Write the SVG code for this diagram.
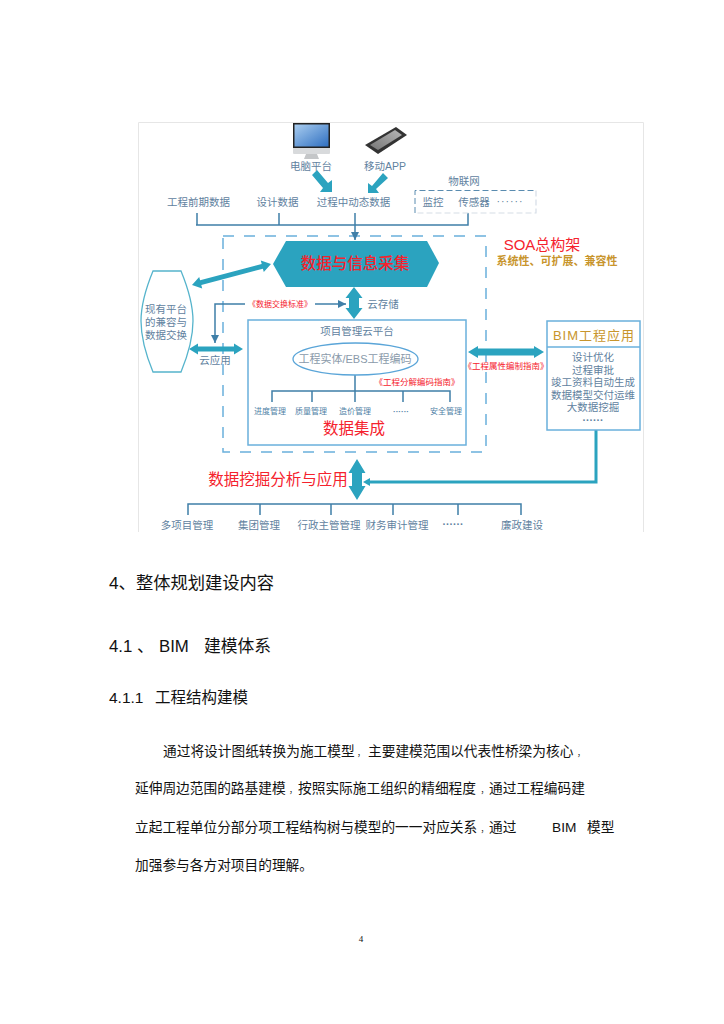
<svg xmlns="http://www.w3.org/2000/svg" width="724" height="1024" viewBox="0 0 724 1024">
<defs>
<style>
text{font-family:"Liberation Sans","Noto Sans CJK SC",sans-serif}
.t{fill:#5f82a0;text-anchor:middle;font-size:10.5px}
.s{fill:#4f7fa6;text-anchor:middle;font-size:8px}
.r{fill:#f5222d;text-anchor:middle}
.g{fill:#c8952c;text-anchor:middle}
.l{fill:none;stroke:#3f7fa8;stroke-width:1.5}
.dash{fill:none;stroke:#6ab0dc;stroke-width:1.5;stroke-dasharray:11 10}
.box{fill:#fff;stroke:#6ab0dc;stroke-width:1.5}
.teal{fill:#2ba3bf}
.ts{stroke:#2ba3bf;fill:none}
.b{fill:#111;font-size:13.7px}
.c{font-size:8px}
.h{fill:#111}
</style>
<marker id="thin" markerWidth="8" markerHeight="8" refX="6" refY="3" orient="auto" markerUnits="userSpaceOnUse" viewBox="0 0 6 6"><path d="M0 0L6 3L0 6Z" fill="#3f7fa8"/></marker>
<linearGradient id="scr" x1="0" y1="0" x2="1" y2="1"><stop offset="0" stop-color="#a9cdf0"/><stop offset="1" stop-color="#2f6fc0"/></linearGradient>
<linearGradient id="ph" x1="0" y1="1" x2="1" y2="0"><stop offset="0" stop-color="#777"/><stop offset="1" stop-color="#b5b5b5"/></linearGradient>
</defs>
<rect width="724" height="1024" fill="#fff"/>
<path d="M138.500 532V122.500H643.500V532" fill="none" stroke="#e6e6e6"/>

<g id="frame-soa">
<rect class="dash" x="223" y="236" width="263" height="216"/>
<text class="r" x="542" y="250" font-size="15">SOA总构架</text>
<text class="g" x="557" y="265" font-size="11" font-weight="700">系统性、可扩展、兼容性</text>
</g>

<g id="connectors">
<path class="l" d="M197 213V225M279 213V225M196 225H468V213"/>
<path class="l" d="M355 213V240" marker-end="url(#thin)"/>
<path class="l" stroke-width="1" d="M245 304H215V343" marker-end="url(#thin)"/>
<path class="l" d="M315 304H346" marker-end="url(#thin)"/>
<path class="l" d="M355 375V391M272 402V391H450V402M312 391V402M355 391V402M403 391V402"/>
<path class="l" d="M188 515V504H521V515M260 504V515M331 504V515M393 504V515M458 504V515"/>
<polygon class="teal" points="312,175 317,170 328,183 332,180 332,192 320,192 323,188"/>
<polygon class="teal" points="388,178 383,173 372,186 368,183 368,193 379,193 376,189"/>
<polygon class="teal" points="192,285 199.200,276.900 200.100,280.300 261.700,263.900 260.800,260.500 271,264 263.800,272.100 262.900,268.700 201.300,285.100 202.200,288.500"/>
<polygon class="teal" points="189,349 198,343.500 198,346.500 234,346.500 234,343.500 243,349 234,354.500 234,351.500 198,351.500 198,354.500"/>
<polygon class="teal" points="468,352 478,346 478,348.500 534,348.500 534,346 544,352 534,358 534,355.500 478,355.500 478,358"/>
<path class="ts" stroke-width="3" d="M596 430V482H369"/>
<polygon class="teal" points="363,482 370,478 370,486"/>
<polygon class="teal" points="354,287 362.500,298 359,298 359,308 362.500,308 354,319 345.500,308 349,308 349,298 345.500,298"/>
<polygon class="teal" points="357,459 365.500,473 362,473 362,486 365.500,486 357,500 348.500,486 352,486 352,473 348.500,473"/>
</g>

<g id="pc">
<rect x="293" y="123" width="37" height="31" rx="1" fill="#d8dadc"/>
<rect x="293" y="123" width="37" height="25" fill="#222"/>
<rect x="294.500" y="124.500" width="34" height="22" fill="url(#scr)"/>
<polygon points="306,154 317,154 319,159 304,159" fill="#c4c6c8"/>
<text class="t" x="311" y="170">电脑平台</text>
</g>
<g id="mobile">
<polygon points="365,145 396,127 407,135 378,154" fill="#333"/>
<polygon points="370,145 395,130 402,135 378,150" fill="url(#ph)"/>
<text class="t" x="385" y="170">移动APP</text>
</g>

<g id="sources">
<text class="t" x="198.500" y="206">工程前期数据</text>
<text class="t" x="277.500" y="206">设计数据</text>
<text class="t" x="353.500" y="206">过程中动态数据</text>
</g>
<g id="iot">
<text class="t" x="464" y="185">物联网</text>
<path fill="none" stroke="#5a8cb0" stroke-width="1" stroke-dasharray="6 3" d="M415 213V190.500H536"/>
<path fill="none" stroke="#d5dde6" stroke-width="1.200" stroke-dasharray="6 3" d="M536 190.500V213H415"/>
<text class="t" x="433" y="206">监控</text>
<text class="t" x="474" y="206">传感器</text>
<text class="t" x="510" y="205" letter-spacing="1">······</text>
</g>

<g id="collect">
<polygon class="teal" points="273,264 286,241 427,241 439,263 427,287 286,287"/>
<text class="r" x="355" y="269" font-size="15.500" font-weight="500">数据与信息采集</text>
</g>

<g id="legacy">
<path fill="#fff" stroke="#56b4cc" stroke-width="1.300" d="M153 271H181C188 288 193 305 193 321C193 338 188 355 181 372H153C146 355 141 338 141 321C141 305 146 288 153 271Z"/>
<text class="t" x="166" y="313">现有平台</text>
<text class="t" x="166" y="326">的兼容与</text>
<text class="t" x="166" y="339">数据交换</text>
</g>

<g id="labels">
<text class="r" x="280" y="307" font-size="8">《数据交换标准》</text>
<text class="t" x="383" y="308">云存储</text>
<text class="t" x="215" y="364">云应用</text>
<text class="r" x="506" y="369" font-size="8.500">《工程属性编制指南》</text>
<text class="r" x="417" y="385" font-size="8.500">《工程分解编码指南》</text>
<text class="r" x="278" y="485" font-size="15.500">数据挖掘分析与应用</text>
</g>

<g id="platform">
<rect x="248" y="320" width="218" height="125" fill="none" stroke="#6ab0dc" stroke-width="1.500"/>
<text class="t" x="357" y="335" font-size="11">项目管理云平台</text>
<ellipse cx="355.500" cy="359" rx="62.500" ry="16" fill="none" stroke="#5aa5d8" stroke-width="1.300"/>
<text class="t" x="355" y="363" style="font-size:11px;fill:#8a9aaa">工程实体/EBS工程编码</text>
<text class="s" x="270" y="414">进度管理</text>
<text class="s" x="311" y="414">质量管理</text>
<text class="s" x="355" y="414">造价管理</text>
<text class="s" x="401" y="414" font-weight="700">······</text>
<text class="s" x="446" y="414">安全管理</text>
<text class="r" x="354" y="434" font-size="15.500">数据集成</text>
</g>

<g id="bim">
<rect class="box" x="547" y="321" width="93" height="109"/>
<path d="M547 347H640" stroke="#6ab0dc" stroke-width="1.500"/>
<text class="g" x="594" y="340" font-size="13" letter-spacing="1">BIM工程应用</text>
<text class="t" x="593" y="361">设计优化</text>
<text class="t" x="593" y="374">过程审批</text>
<text class="t" x="593" y="386">竣工资料自动生成</text>
<text class="t" x="593" y="399">数据模型交付运维</text>
<text class="t" x="593" y="411">大数据挖掘</text>
<text class="t" x="593" y="424" font-weight="700">······</text>
</g>

<g id="apps">
<text class="t" x="187" y="529">多项目管理</text>
<text class="t" x="259" y="529">集团管理</text>
<text class="t" x="329" y="529">行政主管管理</text>
<text class="t" x="397" y="529">财务审计管理</text>
<text class="t" x="453" y="528" font-weight="700">······</text>
<text class="t" x="522" y="529">廉政建设</text>
</g>

<g id="body">
<text class="h" x="109" y="589" font-size="17.300">4、整体规划建设内容</text>
<text class="h" x="109" y="652" font-size="16.800">4.1<tspan x="137">、</tspan><tspan x="159">BIM</tspan><tspan x="204">建模体系</tspan></text>
<text class="h" x="109" y="703" font-size="15.500">4.1.1<tspan x="155">工程结构建模</tspan></text>
<text class="b" x="163" y="756">通过将设计图纸转换为施工模型<tspan class="c" x="357">，</tspan><tspan x="368">主要建模范围以代表性桥梁为核心</tspan><tspan class="c" x="577">，</tspan></text>
<text class="b" x="135" y="793">延伸周边范围的路基建模<tspan class="c" x="289">，</tspan><tspan x="298">按照实际施工组织的精细程度</tspan><tspan class="c" x="480.500">，</tspan><tspan x="489">通过工程编码建</tspan></text>
<text class="b" x="135" y="832">立起工程单位分部分项工程结构树与模型的一一对应关系<tspan class="c" x="480.500">，</tspan><tspan x="489">通过</tspan><tspan x="552">BIM</tspan><tspan x="587">模型</tspan></text>
<text class="b" x="135" y="870">加强参与各方对项目的理解。</text>
<text x="361" y="942" font-size="9" text-anchor="middle" style="font-family:'Liberation Serif',serif" fill="#111">4</text>
</g>
</svg>
